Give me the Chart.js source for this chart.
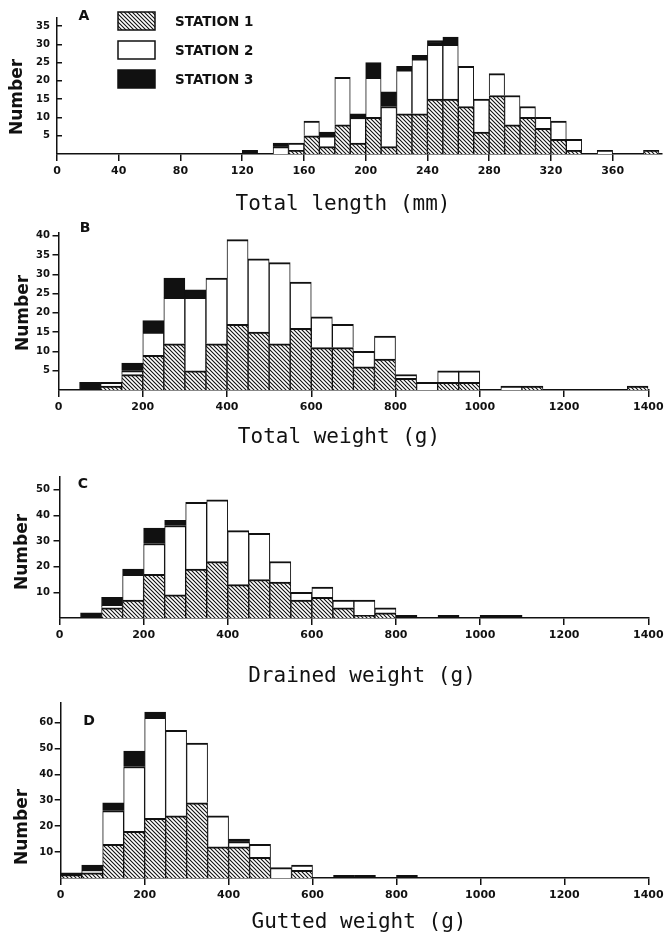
<!DOCTYPE html>
<html>
<head>
<meta charset="utf-8">
<title>Size frequency by station</title>
<script src="https://cdn.jsdelivr.net/npm/chart.js@4.4.1/dist/chart.umd.min.js"></script>
<style>
  html, body { margin: 0; padding: 0; background: #fff; }
  #page { position: relative; width: 667px; height: 939px; overflow: hidden; }
  canvas { position: absolute; left: 0; }
</style>
</head>
<body>
<div id="page">
  <canvas id="panelA" width="667" height="220" style="top:0px"></canvas>
  <canvas id="panelB" width="667" height="235" style="top:220px"></canvas>
  <canvas id="panelC" width="667" height="235" style="top:455px"></canvas>
  <canvas id="panelD" width="667" height="249" style="top:690px"></canvas>
</div>
<script>
// A: total length, 10 mm classes (lower bound of each class)
const lengthBins = [120, 130, 140, 150, 160, 170, 180, 190, 200, 210, 220, 230, 240, 250, 260, 270, 280, 290, 300, 310, 320, 330, 340, 350, 360, 370, 380];
const lengthSt1  = [0, 0, 0, 1, 5, 2, 8, 3, 10, 2, 11, 11, 15, 15, 13, 6, 16, 8, 10, 7, 4, 1, 0, 0, 0, 0, 1];
const lengthSt2  = [0, 0, 2, 2, 4, 3, 13, 7, 11, 11, 12, 15, 15, 15, 11, 9, 6, 8, 3, 3, 5, 3, 0, 1, 0, 0, 0];
const lengthSt3  = [1, 0, 1, 0, 0, 1, 0, 1, 4, 4, 1, 1, 1, 2, 0, 0, 0, 0, 0, 0, 0, 0, 0, 0, 0, 0, 0];

// B: total weight, 50 g classes
const totalBins = [50, 100, 150, 200, 250, 300, 350, 400, 450, 500, 550, 600, 650, 700, 750, 800, 850, 900, 950, 1000, 1050, 1100, 1150, 1200, 1250, 1300, 1350];
const totalSt1  = [0, 1, 4, 9, 12, 5, 12, 17, 15, 12, 16, 11, 11, 6, 8, 3, 0, 2, 2, 0, 0, 1, 0, 0, 0, 0, 1];
const totalSt2  = [0, 1, 1, 6, 12, 19, 17, 22, 19, 21, 12, 8, 6, 4, 6, 1, 2, 3, 3, 0, 1, 0, 0, 0, 0, 0, 0];
const totalSt3  = [2, 0, 2, 3, 5, 2, 0, 0, 0, 0, 0, 0, 0, 0, 0, 0, 0, 0, 0, 0, 0, 0, 0, 0, 0, 0, 0];

// C: drained weight, 50 g classes
const drainedBins = [50, 100, 150, 200, 250, 300, 350, 400, 450, 500, 550, 600, 650, 700, 750, 800, 850, 900, 950, 1000, 1050];
const drainedSt1  = [0, 4, 7, 17, 9, 19, 22, 13, 15, 14, 7, 8, 4, 1, 2, 0, 0, 0, 0, 0, 0];
const drainedSt2  = [0, 1, 10, 12, 27, 26, 24, 21, 18, 8, 3, 4, 3, 6, 2, 0, 0, 0, 0, 0, 0];
const drainedSt3  = [2, 3, 2, 6, 2, 0, 0, 0, 0, 0, 0, 0, 0, 0, 0, 1, 0, 1, 0, 1, 1];

// D: gutted weight, 50 g classes
const guttedBins = [0, 50, 100, 150, 200, 250, 300, 350, 400, 450, 500, 550, 600, 650, 700, 750, 800];
const guttedSt1  = [1, 2, 13, 18, 23, 24, 29, 12, 12, 8, 0, 3, 0, 0, 0, 0, 0];
const guttedSt2  = [0, 1, 13, 25, 39, 33, 23, 12, 2, 5, 4, 2, 0, 0, 0, 0, 0];
const guttedSt3  = [1, 2, 3, 6, 2, 0, 0, 0, 1, 0, 0, 0, 0, 1, 1, 0, 1];

// axis tick values
const lengthTicks = [0, 40, 80, 120, 160, 200, 240, 280, 320, 360];
const weightTicks = [0, 200, 400, 600, 800, 1000, 1200, 1400];
const countTicksA = [5, 10, 15, 20, 25, 30, 35];
const countTicksB = [5, 10, 15, 20, 25, 30, 35, 40];
const countTicksC = [10, 20, 30, 40, 50];
const countTicksD = [10, 20, 30, 40, 50, 60];

const stationNames = ['STATION 1', 'STATION 2', 'STATION 3'];

Chart.defaults.font.family = '"DejaVu Sans", sans-serif';
Chart.defaults.color = '#111';

const INK = '#111';
const PAGE_W = 667;

// diagonal hatch for station 1
function makeHatch() {
  const tile = document.createElement('canvas');
  tile.width = tile.height = 4;
  const g = tile.getContext('2d');
  g.fillStyle = '#fff';
  g.fillRect(0, 0, 4, 4);
  g.strokeStyle = INK;
  g.lineWidth = 1.1;
  g.beginPath();
  g.moveTo(-1, -1); g.lineTo(5, 5);
  g.moveTo(-1, 3); g.lineTo(1, 5);
  g.moveTo(3, -1); g.lineTo(5, 1);
  g.stroke();
  return g.createPattern(tile, 'repeat');
}
const hatchFill = makeHatch();
const stationFills = [hatchFill, '#fff', INK];

// panel letter, axis captions and (panel A only) the station key
const panelNotes = {
  id: 'panelNotes',
  afterDraw(chart, args, opts) {
    const ctx = chart.ctx;
    ctx.save();
    ctx.fillStyle = INK;
    ctx.textAlign = 'center';
    ctx.textBaseline = 'middle';
    ctx.font = 'bold 14px "DejaVu Sans"';
    ctx.fillText(opts.letter, opts.letterAt[0], opts.letterAt[1]);

    ctx.font = '21px "DejaVu Sans Mono"';
    ctx.fillText(opts.xTitle, opts.xTitleAt[0], opts.xTitleAt[1]);

    ctx.save();
    ctx.translate(opts.yTitleAt[0], opts.yTitleAt[1]);
    ctx.rotate(-Math.PI / 2);
    ctx.font = 'bold 17px "DejaVu Sans"';
    ctx.fillText(opts.yTitle, 0, 0);
    ctx.restore();

    if (opts.key) {
      const k = opts.key;
      ctx.textAlign = 'left';
      ctx.font = 'bold 13.5px "DejaVu Sans"';
      ctx.lineWidth = 1.5;
      ctx.strokeStyle = INK;
      chart.data.datasets.forEach((ds, i) => {
        const y = k.top + i * k.step;
        ctx.fillStyle = ds.backgroundColor;
        ctx.fillRect(k.x, y, k.w, k.h);
        ctx.strokeRect(k.x, y, k.w, k.h);
        ctx.fillStyle = INK;
        ctx.fillText(ds.label, k.textX, y + k.h / 2 + 1);
      });
    }
    ctx.restore();
  }
};

function histogram(id, p) {
  const canvas = document.getElementById(id);
  const H = canvas.height;
  const series = [p.st1, p.st2, p.st3];
  const datasets = series.map((vals, s) => ({
    label: stationNames[s],
    data: p.bins.map((b, i) => ({ x: b + p.binWidth / 2, y: vals[i] })),
    backgroundColor: stationFills[s],
    borderColor: INK,
    borderWidth: { top: 2, left: 1, right: 1, bottom: 0 },
    categoryPercentage: 1,
    barPercentage: 1
  }));

  return new Chart(canvas, {
    type: 'bar',
    data: { datasets },
    plugins: [panelNotes],
    options: {
      responsive: false,
      animation: false,
      events: [],
      layout: {
        padding: { left: 0, top: p.area.top, right: PAGE_W - p.area.right, bottom: 0 }
      },
      plugins: {
        legend: { display: false },
        tooltip: { enabled: false },
        panelNotes: {
          letter: p.letter,
          letterAt: p.letterAt,
          xTitle: p.xTitle,
          xTitleAt: p.xTitleAt,
          yTitle: 'Number',
          yTitleAt: p.yTitleAt,
          key: p.key || null
        }
      },
      scales: {
        x: {
          type: 'linear',
          stacked: true,
          offset: false,
          min: 0,
          max: p.xMax,
          afterBuildTicks: s => { s.ticks = p.xTicks.map(v => ({ value: v })); },
          afterFit: s => { s.height = H - p.area.bottom; },
          border: { color: INK, width: 1.5 },
          grid: { offset: false, drawOnChartArea: false, color: INK, lineWidth: 1.5, tickLength: 7 },
          ticks: {
            color: INK,
            autoSkip: false,
            maxRotation: 0,
            padding: 3.4,
            font: { size: 11, weight: 'bold' },
            callback: v => String(v)
          }
        },
        y: {
          type: 'linear',
          stacked: true,
          min: 0,
          max: p.yMax,
          afterBuildTicks: s => { s.ticks = p.yTicks.map(v => ({ value: v })); },
          afterFit: s => { s.width = p.area.left; },
          border: { color: INK, width: 1.5 },
          grid: { drawOnChartArea: false, color: INK, lineWidth: 1.5, tickLength: p.yTickLen },
          ticks: {
            color: INK,
            padding: p.yTickPad,
            font: { size: 10, weight: 'bold' },
            callback: v => String(v)
          }
        }
      }
    }
  });
}

histogram('panelA', {
  bins: lengthBins, binWidth: 10, st1: lengthSt1, st2: lengthSt2, st3: lengthSt3,
  xMax: 392, xTicks: lengthTicks, yMax: 37.2, yTicks: countTicksA,
  xTitle: 'Total length (mm)', xTitleAt: [343, 205],
  area: { left: 57, right: 662, top: 10, bottom: 154 },
  yTickLen: -5, yTickPad: 12,
  letter: 'A', letterAt: [84, 16], yTitleAt: [18, 97],
  key: { x: 118, w: 37, h: 18, top: 12, step: 29, textX: 175 }
});

histogram('panelB', {
  bins: totalBins, binWidth: 50, st1: totalSt1, st2: totalSt2, st3: totalSt3,
  xMax: 1400, xTicks: weightTicks, yMax: 40.7, yTicks: countTicksB,
  xTitle: 'Total weight (g)', xTitleAt: [339, 218],
  area: { left: 58.5, right: 649, top: 13, bottom: 170 },
  yTickLen: 6, yTickPad: 2.5,
  letter: 'B', letterAt: [85, 8], yTitleAt: [24, 93]
});

histogram('panelC', {
  bins: drainedBins, binWidth: 50, st1: drainedSt1, st2: drainedSt2, st3: drainedSt3,
  xMax: 1400, xTicks: weightTicks, yMax: 54.9, yTicks: countTicksC,
  xTitle: 'Drained weight (g)', xTitleAt: [362, 222],
  area: { left: 59.5, right: 650, top: 22, bottom: 163 },
  yTickLen: 6, yTickPad: 3.5,
  letter: 'C', letterAt: [83, 29], yTitleAt: [23, 97]
});

histogram('panelD', {
  bins: guttedBins, binWidth: 50, st1: guttedSt1, st2: guttedSt2, st3: guttedSt3,
  xMax: 1400, xTicks: weightTicks, yMax: 67.5, yTicks: countTicksD,
  xTitle: 'Gutted weight (g)', xTitleAt: [359, 233],
  area: { left: 60.7, right: 651, top: 13, bottom: 188 },
  yTickLen: 6, yTickPad: 1.5,
  letter: 'D', letterAt: [89, 31], yTitleAt: [23, 137]
});
</script>
</body>
</html>
